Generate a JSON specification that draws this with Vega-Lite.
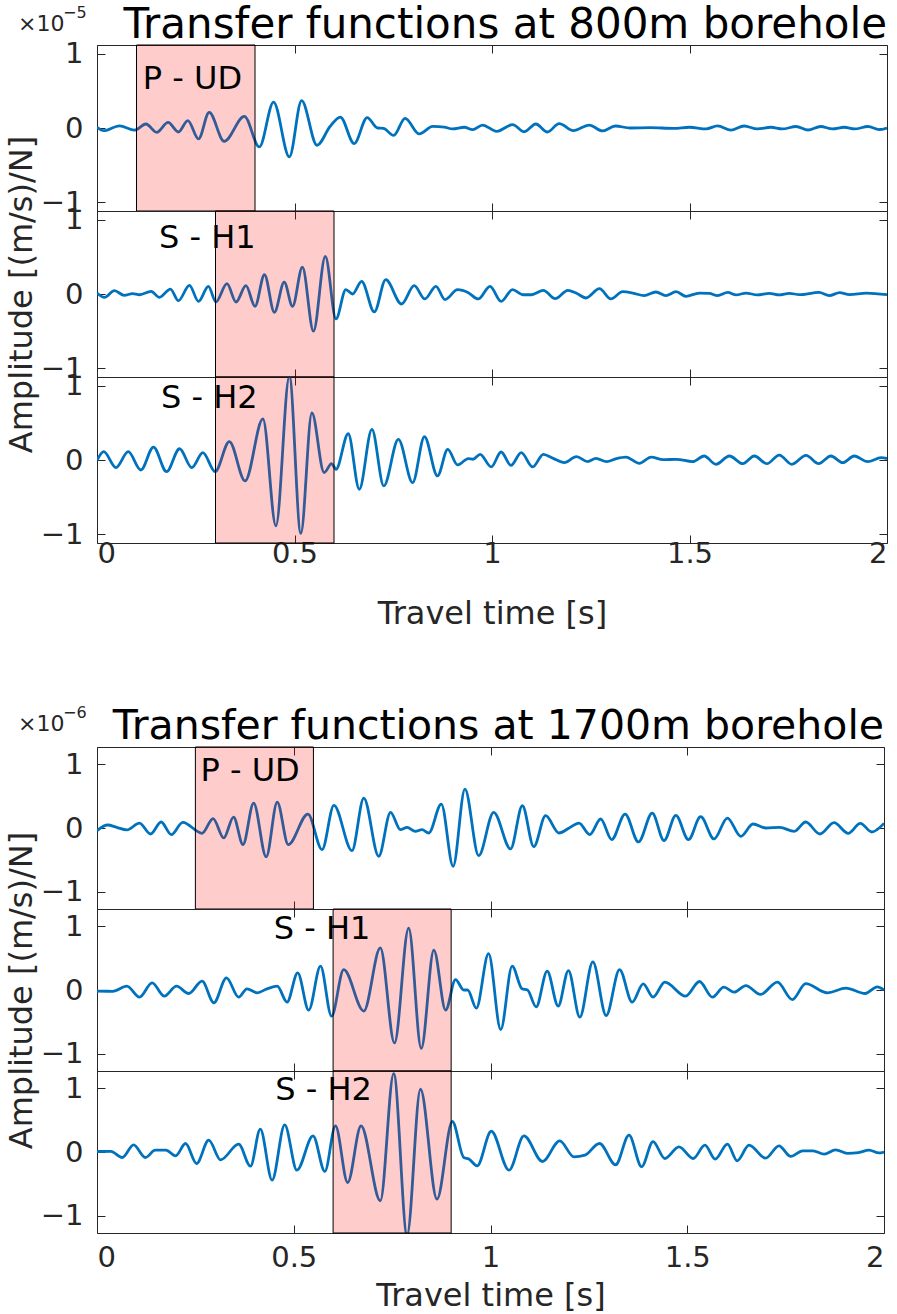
{
"$schema": "https://vega.github.io/schema/vega-lite/v6.json",
"padding": {"left": 4, "top": 3, "right": 10, "bottom": 2},
"background": "white",
"spacing": 74,
"config": {
  "font": "DejaVu Sans",
  "view": {"stroke": "#262626", "strokeWidth": 1},
  "axis": {"grid": false, "domain": false, "tickColor": "#262626", "tickSize": -8, "tickWidth": 1, "labelColor": "#262626", "titleColor": "#262626", "labelFont": "DejaVu Sans", "titleFont": "DejaVu Sans", "labelFontSize": 29, "titleFontSize": 32, "titleFontWeight": "normal"},
  "text": {"font": "DejaVu Sans"}
},
"datasets": {
"boxes": [
 {"p":"A1","x1":0.1,"x2":0.4,"tx":0.116,"ty":0.66,"name":"P - UD"},
 {"p":"A2","x1":0.3,"x2":0.6,"tx":0.157,"ty":0.76,"name":"S - H1"},
 {"p":"A3","x1":0.3,"x2":0.6,"tx":0.162,"ty":0.83,"name":"S - H2"},
 {"p":"B1","x1":0.25,"x2":0.55,"tx":0.263,"ty":0.9,"name":"P - UD"},
 {"p":"B2","x1":0.6,"x2":0.9,"tx":0.449,"ty":0.96,"name":"S - H1"},
 {"p":"B3","x1":0.6,"x2":0.9,"tx":0.453,"ty":0.97,"name":"S - H2"}
],
"heads": [
 {"g":"A","title":"Transfer functions at 800m borehole","base":"×10","exp":"−5"},
 {"g":"B","title":"Transfer functions at 1700m borehole","base":"×10","exp":"−6"}
],
"w": [
{"p":"A1","t":0,"a":0.01},{"p":"A1","t":0.017,"a":-0.036},{"p":"A1","t":0.057,"a":0.03},{"p":"A1","t":0.095,"a":-0.03},{"p":"A1","t":0.124,"a":0.054},{"p":"A1","t":0.151,"a":-0.058},{"p":"A1","t":0.18,"a":0.076},{"p":"A1","t":0.206,"a":-0.054},{"p":"A1","t":0.23,"a":0.1},{"p":"A1","t":0.257,"a":-0.148},{"p":"A1","t":0.284,"a":0.21},{"p":"A1","t":0.322,"a":-0.18},{"p":"A1","t":0.373,"a":0.157},{"p":"A1","t":0.411,"a":-0.256},{"p":"A1","t":0.447,"a":0.35},{"p":"A1","t":0.487,"a":-0.39},{"p":"A1","t":0.518,"a":0.37},{"p":"A1","t":0.557,"a":-0.233},{"p":"A1","t":0.59,"a":0.02},{"p":"A1","t":0.616,"a":0.148},{"p":"A1","t":0.651,"a":-0.21},{"p":"A1","t":0.684,"a":0.14},{"p":"A1","t":0.71,"a":0},{"p":"A1","t":0.725,"a":-0.005},{"p":"A1","t":0.751,"a":-0.1},{"p":"A1","t":0.78,"a":0.13},{"p":"A1","t":0.816,"a":-0.08},{"p":"A1","t":0.85,"a":0.022},{"p":"A1","t":0.879,"a":0.013},{"p":"A1","t":0.9,"a":-0.013},{"p":"A1","t":0.93,"a":0.01},{"p":"A1","t":0.951,"a":-0.022},{"p":"A1","t":0.976,"a":0.04},{"p":"A1","t":1.012,"a":-0.045},{"p":"A1","t":1.052,"a":0.045},{"p":"A1","t":1.082,"a":-0.05},{"p":"A1","t":1.111,"a":0.054},{"p":"A1","t":1.14,"a":-0.054},{"p":"A1","t":1.17,"a":0.058},{"p":"A1","t":1.206,"a":-0.036},{"p":"A1","t":1.246,"a":0.04},{"p":"A1","t":1.28,"a":-0.04},{"p":"A1","t":1.312,"a":0.027},{"p":"A1","t":1.35,"a":0},{"p":"A1","t":1.4,"a":0.004},{"p":"A1","t":1.46,"a":-0.004},{"p":"A1","t":1.5,"a":0.01},{"p":"A1","t":1.542,"a":-0.013},{"p":"A1","t":1.571,"a":0.03},{"p":"A1","t":1.605,"a":-0.03},{"p":"A1","t":1.638,"a":0.027},{"p":"A1","t":1.672,"a":-0.013},{"p":"A1","t":1.706,"a":0.01},{"p":"A1","t":1.735,"a":-0.013},{"p":"A1","t":1.77,"a":0.02},{"p":"A1","t":1.8,"a":-0.027},{"p":"A1","t":1.832,"a":0.02},{"p":"A1","t":1.862,"a":-0.013},{"p":"A1","t":1.892,"a":0.01},{"p":"A1","t":1.918,"a":-0.013},{"p":"A1","t":1.952,"a":0.02},{"p":"A1","t":1.98,"a":-0.022},{"p":"A1","t":2,"a":0},
{"p":"A2","t":0,"a":0.013},{"p":"A2","t":0.019,"a":-0.045},{"p":"A2","t":0.044,"a":0.045},{"p":"A2","t":0.069,"a":-0.018},{"p":"A2","t":0.09,"a":0.005},{"p":"A2","t":0.108,"a":-0.01},{"p":"A2","t":0.137,"a":0.036},{"p":"A2","t":0.158,"a":-0.045},{"p":"A2","t":0.186,"a":0.067},{"p":"A2","t":0.206,"a":-0.09},{"p":"A2","t":0.234,"a":0.117},{"p":"A2","t":0.257,"a":-0.1},{"p":"A2","t":0.282,"a":0.103},{"p":"A2","t":0.301,"a":-0.108},{"p":"A2","t":0.329,"a":0.139},{"p":"A2","t":0.352,"a":-0.108},{"p":"A2","t":0.377,"a":0.112},{"p":"A2","t":0.4,"a":-0.166},{"p":"A2","t":0.424,"a":0.26},{"p":"A2","t":0.449,"a":-0.247},{"p":"A2","t":0.474,"a":0.16},{"p":"A2","t":0.495,"a":-0.166},{"p":"A2","t":0.52,"a":0.363},{"p":"A2","t":0.548,"a":-0.502},{"p":"A2","t":0.578,"a":0.507},{"p":"A2","t":0.605,"a":-0.336},{"p":"A2","t":0.63,"a":0.058},{"p":"A2","t":0.647,"a":0},{"p":"A2","t":0.67,"a":0.17},{"p":"A2","t":0.702,"a":-0.242},{"p":"A2","t":0.731,"a":0.193},{"p":"A2","t":0.771,"a":-0.135},{"p":"A2","t":0.803,"a":0.112},{"p":"A2","t":0.83,"a":-0.067},{"p":"A2","t":0.858,"a":0.103},{"p":"A2","t":0.881,"a":-0.076},{"p":"A2","t":0.913,"a":0.058},{"p":"A2","t":0.94,"a":0.018},{"p":"A2","t":0.965,"a":-0.067},{"p":"A2","t":0.995,"a":0.103},{"p":"A2","t":1.023,"a":-0.1},{"p":"A2","t":1.052,"a":0.058},{"p":"A2","t":1.078,"a":-0.01},{"p":"A2","t":1.1,"a":-0.01},{"p":"A2","t":1.13,"a":0.05},{"p":"A2","t":1.16,"a":-0.063},{"p":"A2","t":1.192,"a":0.05},{"p":"A2","t":1.213,"a":0.013},{"p":"A2","t":1.238,"a":-0.054},{"p":"A2","t":1.272,"a":0.072},{"p":"A2","t":1.301,"a":-0.067},{"p":"A2","t":1.331,"a":0.031},{"p":"A2","t":1.357,"a":0.013},{"p":"A2","t":1.385,"a":-0.022},{"p":"A2","t":1.415,"a":0.027},{"p":"A2","t":1.44,"a":-0.022},{"p":"A2","t":1.466,"a":0.031},{"p":"A2","t":1.491,"a":-0.031},{"p":"A2","t":1.525,"a":0.013},{"p":"A2","t":1.55,"a":0.009},{"p":"A2","t":1.571,"a":-0.022},{"p":"A2","t":1.597,"a":0.022},{"p":"A2","t":1.618,"a":-0.013},{"p":"A2","t":1.643,"a":0.013},{"p":"A2","t":1.672,"a":-0.013},{"p":"A2","t":1.702,"a":0.009},{"p":"A2","t":1.727,"a":-0.013},{"p":"A2","t":1.753,"a":0.009},{"p":"A2","t":1.778,"a":-0.009},{"p":"A2","t":1.828,"a":0.022},{"p":"A2","t":1.854,"a":-0.022},{"p":"A2","t":1.88,"a":0.018},{"p":"A2","t":1.905,"a":-0.009},{"p":"A2","t":1.948,"a":0.013},{"p":"A2","t":2,"a":-0.009},
{"p":"A3","t":0,"a":-0.005},{"p":"A3","t":0.017,"a":0.112},{"p":"A3","t":0.048,"a":-0.103},{"p":"A3","t":0.079,"a":0.112},{"p":"A3","t":0.111,"a":-0.135},{"p":"A3","t":0.143,"a":0.175},{"p":"A3","t":0.176,"a":-0.157},{"p":"A3","t":0.209,"a":0.152},{"p":"A3","t":0.24,"a":-0.103},{"p":"A3","t":0.268,"a":0.099},{"p":"A3","t":0.299,"a":-0.157},{"p":"A3","t":0.335,"a":0.247},{"p":"A3","t":0.375,"a":-0.283},{"p":"A3","t":0.42,"a":0.556},{"p":"A3","t":0.453,"a":-0.888},{"p":"A3","t":0.487,"a":1.13},{"p":"A3","t":0.516,"a":-0.99},{"p":"A3","t":0.544,"a":0.637},{"p":"A3","t":0.575,"a":-0.17},{"p":"A3","t":0.594,"a":-0.05},{"p":"A3","t":0.605,"a":-0.125},{"p":"A3","t":0.636,"a":0.354},{"p":"A3","t":0.664,"a":-0.395},{"p":"A3","t":0.696,"a":0.413},{"p":"A3","t":0.726,"a":-0.35},{"p":"A3","t":0.763,"a":0.278},{"p":"A3","t":0.799,"a":-0.305},{"p":"A3","t":0.829,"a":0.314},{"p":"A3","t":0.862,"a":-0.215},{"p":"A3","t":0.888,"a":0.143},{"p":"A3","t":0.913,"a":-0.067},{"p":"A3","t":0.94,"a":0.018},{"p":"A3","t":0.952,"a":0.01},{"p":"A3","t":0.97,"a":0.076},{"p":"A3","t":0.998,"a":-0.094},{"p":"A3","t":1.023,"a":0.108},{"p":"A3","t":1.048,"a":-0.072},{"p":"A3","t":1.074,"a":0.099},{"p":"A3","t":1.103,"a":-0.094},{"p":"A3","t":1.13,"a":0.076},{"p":"A3","t":1.155,"a":0.022},{"p":"A3","t":1.183,"a":-0.036},{"p":"A3","t":1.214,"a":0.045},{"p":"A3","t":1.242,"a":-0.022},{"p":"A3","t":1.263,"a":0.022},{"p":"A3","t":1.29,"a":-0.022},{"p":"A3","t":1.315,"a":0.02},{"p":"A3","t":1.339,"a":0.04},{"p":"A3","t":1.373,"a":-0.045},{"p":"A3","t":1.403,"a":0.04},{"p":"A3","t":1.433,"a":0.004},{"p":"A3","t":1.467,"a":0.009},{"p":"A3","t":1.508,"a":-0.022},{"p":"A3","t":1.537,"a":0.054},{"p":"A3","t":1.567,"a":-0.058},{"p":"A3","t":1.601,"a":0.054},{"p":"A3","t":1.635,"a":-0.05},{"p":"A3","t":1.664,"a":0.054},{"p":"A3","t":1.696,"a":-0.05},{"p":"A3","t":1.727,"a":0.067},{"p":"A3","t":1.759,"a":-0.058},{"p":"A3","t":1.795,"a":0.063},{"p":"A3","t":1.827,"a":-0.05},{"p":"A3","t":1.858,"a":0.054},{"p":"A3","t":1.888,"a":-0.036},{"p":"A3","t":1.917,"a":0.054},{"p":"A3","t":1.951,"a":-0.022},{"p":"A3","t":1.985,"a":0.031},{"p":"A3","t":2,"a":0.02},
{"p":"B1","t":0,"a":-0.04},{"p":"B1","t":0.027,"a":0.047},{"p":"B1","t":0.05,"a":0.01},{"p":"B1","t":0.076,"a":-0.03},{"p":"B1","t":0.108,"a":0.078},{"p":"B1","t":0.136,"a":-0.094},{"p":"B1","t":0.163,"a":0.094},{"p":"B1","t":0.189,"a":-0.104},{"p":"B1","t":0.218,"a":0.089},{"p":"B1","t":0.267,"a":-0.083},{"p":"B1","t":0.295,"a":0.146},{"p":"B1","t":0.322,"a":-0.156},{"p":"B1","t":0.347,"a":0.172},{"p":"B1","t":0.371,"a":-0.26},{"p":"B1","t":0.398,"a":0.39},{"p":"B1","t":0.43,"a":-0.453},{"p":"B1","t":0.458,"a":0.406},{"p":"B1","t":0.486,"a":-0.26},{"p":"B1","t":0.536,"a":0.219},{"p":"B1","t":0.572,"a":-0.339},{"p":"B1","t":0.602,"a":0.354},{"p":"B1","t":0.648,"a":-0.354},{"p":"B1","t":0.678,"a":0.469},{"p":"B1","t":0.716,"a":-0.443},{"p":"B1","t":0.746,"a":0.245},{"p":"B1","t":0.771,"a":-0.026},{"p":"B1","t":0.788,"a":0.01},{"p":"B1","t":0.809,"a":-0.052},{"p":"B1","t":0.826,"a":-0.026},{"p":"B1","t":0.843,"a":-0.078},{"p":"B1","t":0.875,"a":0.375},{"p":"B1","t":0.905,"a":-0.6},{"p":"B1","t":0.935,"a":0.61},{"p":"B1","t":0.97,"a":-0.432},{"p":"B1","t":1.008,"a":0.245},{"p":"B1","t":1.051,"a":-0.328},{"p":"B1","t":1.081,"a":0.349},{"p":"B1","t":1.11,"a":-0.292},{"p":"B1","t":1.14,"a":0.193},{"p":"B1","t":1.174,"a":-0.078},{"p":"B1","t":1.2,"a":0},{"p":"B1","t":1.225,"a":0.078},{"p":"B1","t":1.252,"a":-0.104},{"p":"B1","t":1.28,"a":0.141},{"p":"B1","t":1.308,"a":-0.182},{"p":"B1","t":1.342,"a":0.219},{"p":"B1","t":1.376,"a":-0.219},{"p":"B1","t":1.411,"a":0.234},{"p":"B1","t":1.441,"a":-0.198},{"p":"B1","t":1.471,"a":0.198},{"p":"B1","t":1.503,"a":-0.182},{"p":"B1","t":1.534,"a":0.177},{"p":"B1","t":1.568,"a":-0.172},{"p":"B1","t":1.602,"a":0.156},{"p":"B1","t":1.636,"a":-0.13},{"p":"B1","t":1.667,"a":0.0625},{"p":"B1","t":1.7,"a":0},{"p":"B1","t":1.735,"a":0.01},{"p":"B1","t":1.772,"a":-0.052},{"p":"B1","t":1.801,"a":0.094},{"p":"B1","t":1.837,"a":-0.094},{"p":"B1","t":1.873,"a":0.083},{"p":"B1","t":1.909,"a":-0.083},{"p":"B1","t":1.94,"a":0.073},{"p":"B1","t":1.969,"a":-0.0625},{"p":"B1","t":2,"a":0.073},
{"p":"B2","t":0,"a":-0.018},{"p":"B2","t":0.04,"a":-0.02},{"p":"B2","t":0.076,"a":0.06},{"p":"B2","t":0.108,"a":-0.112},{"p":"B2","t":0.14,"a":0.112},{"p":"B2","t":0.171,"a":-0.097},{"p":"B2","t":0.202,"a":0.06},{"p":"B2","t":0.233,"a":-0.055},{"p":"B2","t":0.267,"a":0.138},{"p":"B2","t":0.297,"a":-0.2},{"p":"B2","t":0.329,"a":0.19},{"p":"B2","t":0.36,"a":-0.112},{"p":"B2","t":0.381,"a":0.018},{"p":"B2","t":0.407,"a":-0.044},{"p":"B2","t":0.432,"a":0.018},{"p":"B2","t":0.458,"a":0.06},{"p":"B2","t":0.483,"a":-0.19},{"p":"B2","t":0.51,"a":0.27},{"p":"B2","t":0.538,"a":-0.316},{"p":"B2","t":0.568,"a":0.373},{"p":"B2","t":0.596,"a":-0.41},{"p":"B2","t":0.627,"a":0.32},{"p":"B2","t":0.678,"a":-0.33},{"p":"B2","t":0.72,"a":0.66},{"p":"B2","t":0.756,"a":-0.83},{"p":"B2","t":0.792,"a":0.97},{"p":"B2","t":0.824,"a":-0.916},{"p":"B2","t":0.856,"a":0.624},{"p":"B2","t":0.886,"a":-0.316},{"p":"B2","t":0.911,"a":0.164},{"p":"B2","t":0.932,"a":0},{"p":"B2","t":0.942,"a":0},{"p":"B2","t":0.964,"a":-0.285},{"p":"B2","t":0.995,"a":0.57},{"p":"B2","t":1.026,"a":-0.62},{"p":"B2","t":1.055,"a":0.373},{"p":"B2","t":1.08,"a":0.02},{"p":"B2","t":1.094,"a":0},{"p":"B2","t":1.116,"a":-0.264},{"p":"B2","t":1.144,"a":0.295},{"p":"B2","t":1.172,"a":-0.253},{"p":"B2","t":1.198,"a":0.305},{"p":"B2","t":1.227,"a":-0.426},{"p":"B2","t":1.26,"a":0.44},{"p":"B2","t":1.294,"a":-0.4},{"p":"B2","t":1.328,"a":0.32},{"p":"B2","t":1.36,"a":-0.19},{"p":"B2","t":1.388,"a":0.097},{"p":"B2","t":1.413,"a":-0.112},{"p":"B2","t":1.443,"a":0.123},{"p":"B2","t":1.496,"a":-0.097},{"p":"B2","t":1.531,"a":0.133},{"p":"B2","t":1.564,"a":-0.112},{"p":"B2","t":1.593,"a":0.044},{"p":"B2","t":1.619,"a":-0.034},{"p":"B2","t":1.649,"a":0.07},{"p":"B2","t":1.686,"a":-0.07},{"p":"B2","t":1.729,"a":0.123},{"p":"B2","t":1.767,"a":-0.15},{"p":"B2","t":1.801,"a":0.1},{"p":"B2","t":1.856,"a":-0.044},{"p":"B2","t":1.903,"a":0.03},{"p":"B2","t":1.952,"a":-0.055},{"p":"B2","t":1.983,"a":0.05},{"p":"B2","t":2,"a":0},
{"p":"B3","t":0,"a":0.008},{"p":"B3","t":0.035,"a":0.01},{"p":"B3","t":0.064,"a":-0.086},{"p":"B3","t":0.093,"a":0.112},{"p":"B3","t":0.123,"a":-0.086},{"p":"B3","t":0.148,"a":0.029},{"p":"B3","t":0.175,"a":0.029},{"p":"B3","t":0.2,"a":-0.06},{"p":"B3","t":0.225,"a":0.133},{"p":"B3","t":0.253,"a":-0.18},{"p":"B3","t":0.284,"a":0.185},{"p":"B3","t":0.314,"a":-0.123},{"p":"B3","t":0.36,"a":0.123},{"p":"B3","t":0.39,"a":-0.222},{"p":"B3","t":0.415,"a":0.358},{"p":"B3","t":0.445,"a":-0.44},{"p":"B3","t":0.477,"a":0.425},{"p":"B3","t":0.508,"a":-0.285},{"p":"B3","t":0.549,"a":0.253},{"p":"B3","t":0.579,"a":-0.305},{"p":"B3","t":0.606,"a":0.41},{"p":"B3","t":0.637,"a":-0.478},{"p":"B3","t":0.671,"a":0.41},{"p":"B3","t":0.72,"a":-0.765},{"p":"B3","t":0.754,"a":1.23},{"p":"B3","t":0.788,"a":-1.3},{"p":"B3","t":0.822,"a":0.984},{"p":"B3","t":0.864,"a":-0.74},{"p":"B3","t":0.903,"a":0.478},{"p":"B3","t":0.932,"a":-0.086},{"p":"B3","t":0.945,"a":-0.11},{"p":"B3","t":0.966,"a":-0.217},{"p":"B3","t":1.002,"a":0.325},{"p":"B3","t":1.047,"a":-0.285},{"p":"B3","t":1.085,"a":0.253},{"p":"B3","t":1.132,"a":-0.149},{"p":"B3","t":1.176,"a":0.175},{"p":"B3","t":1.212,"a":-0.076},{"p":"B3","t":1.24,"a":-0.05},{"p":"B3","t":1.277,"a":0.133},{"p":"B3","t":1.318,"a":-0.2},{"p":"B3","t":1.352,"a":0.264},{"p":"B3","t":1.384,"a":-0.232},{"p":"B3","t":1.413,"a":0.164},{"p":"B3","t":1.443,"a":-0.102},{"p":"B3","t":1.479,"a":0.081},{"p":"B3","t":1.515,"a":-0.102},{"p":"B3","t":1.545,"a":0.107},{"p":"B3","t":1.571,"a":-0.112},{"p":"B3","t":1.602,"a":0.123},{"p":"B3","t":1.627,"a":-0.138},{"p":"B3","t":1.657,"a":0.107},{"p":"B3","t":1.699,"a":-0.097},{"p":"B3","t":1.733,"a":0.097},{"p":"B3","t":1.763,"a":-0.07},{"p":"B3","t":1.793,"a":0.018},{"p":"B3","t":1.82,"a":0.018},{"p":"B3","t":1.848,"a":-0.034},{"p":"B3","t":1.877,"a":0.034},{"p":"B3","t":1.907,"a":-0.02},{"p":"B3","t":1.935,"a":-0.01},{"p":"B3","t":1.962,"a":0.029},{"p":"B3","t":1.987,"a":-0.015},{"p":"B3","t":2,"a":0}
]
},
"vconcat": [
{
 "bounds": "flush",
 "spacing": 0,
 "vconcat": [
  {"width": 790, "height": 166,
   "resolve": {"axis": {"x": "independent", "y": "independent"}},
   "layer": [
    {"data": {"name": "w"}, "transform": [{"filter": "datum.p == 'A1'"}],
     "mark": {"type": "line", "interpolate": "monotone", "color": "#0072BD", "strokeWidth": 2.8, "clip": true},
     "encoding": {
      "x": {"field": "t", "type": "quantitative", "scale": {"domain": [0, 2], "nice": false}, "axis": {"orient": "bottom", "values": [0, 0.5, 1, 1.5, 2], "labels": false, "title": null}},
      "y": {"field": "a", "type": "quantitative", "scale": {"domain": [-1.12, 1.12], "nice": false, "zero": false}, "axis": {"orient": "left", "values": [-1, 0, 1], "format": "~g", "labelPadding": 22, "title": null}}}},
    {"data": {"name": "w"}, "transform": [{"filter": "datum.p == 'A1'"}],
     "mark": {"type": "point", "opacity": 0},
     "encoding": {
      "x": {"field": "t", "type": "quantitative", "axis": {"orient": "top", "values": [0, 0.5, 1, 1.5, 2], "labels": false, "title": null}},
      "y": {"field": "a", "type": "quantitative", "axis": {"orient": "right", "values": [-1, 0, 1], "labels": false, "title": null}}}},
    {"data": {"name": "boxes"}, "transform": [{"filter": "datum.p == 'A1'"}],
     "mark": {"type": "rect", "fill": "#ff0000", "fillOpacity": 0.2, "stroke": "#000000", "strokeWidth": 1},
     "encoding": {"x": {"field": "x1", "type": "quantitative", "axis": null}, "x2": {"field": "x2"}, "y": {"datum": -1.12, "type": "quantitative", "axis": null}, "y2": {"datum": 1.12}}},
    {"data": {"name": "boxes"}, "transform": [{"filter": "datum.p == 'A1'"}],
     "mark": {"type": "text", "align": "left", "baseline": "middle", "fontSize": 32, "color": "#000000"},
     "encoding": {"x": {"field": "tx", "type": "quantitative", "axis": null}, "y": {"field": "ty", "type": "quantitative", "axis": null}, "text": {"field": "name"}}},
    {"data": {"name": "heads"}, "transform": [{"filter": "datum.g == 'A'"}],
     "mark": {"type": "text", "align": "right", "baseline": "alphabetic", "fontSize": 42, "color": "#000000", "dy": -7},
     "encoding": {"x": {"datum": 2, "type": "quantitative", "axis": null}, "y": {"datum": 1.12, "type": "quantitative", "axis": null}, "text": {"field": "title"}}},
    {"data": {"name": "heads"}, "transform": [{"filter": "datum.g == 'A'"}],
     "mark": {"type": "text", "align": "left", "baseline": "alphabetic", "fontSize": 22, "color": "#262626", "dx": -79, "dy": -14},
     "encoding": {"x": {"datum": 0, "type": "quantitative", "axis": null}, "y": {"datum": 1.12, "type": "quantitative", "axis": null}, "text": {"field": "base"}}},
    {"data": {"name": "heads"}, "transform": [{"filter": "datum.g == 'A'"}],
     "mark": {"type": "text", "align": "left", "baseline": "alphabetic", "fontSize": 16, "color": "#262626", "dx": -34, "dy": -27},
     "encoding": {"x": {"datum": 0, "type": "quantitative", "axis": null}, "y": {"datum": 1.12, "type": "quantitative", "axis": null}, "text": {"field": "exp"}}}
   ]},
  {"width": 790, "height": 166,
   "resolve": {"axis": {"x": "independent", "y": "independent"}},
   "layer": [
    {"data": {"name": "w"}, "transform": [{"filter": "datum.p == 'A2'"}],
     "mark": {"type": "line", "interpolate": "monotone", "color": "#0072BD", "strokeWidth": 2.8, "clip": true},
     "encoding": {
      "x": {"field": "t", "type": "quantitative", "scale": {"domain": [0, 2], "nice": false}, "axis": {"orient": "bottom", "values": [0, 0.5, 1, 1.5, 2], "labels": false, "title": null}},
      "y": {"field": "a", "type": "quantitative", "scale": {"domain": [-1.12, 1.12], "nice": false, "zero": false}, "axis": {"orient": "left", "values": [-1, 0, 1], "format": "~g", "labelPadding": 22, "title": "Amplitude [(m/s)/N]", "titlePadding": 2}}}},
    {"data": {"name": "w"}, "transform": [{"filter": "datum.p == 'A2'"}],
     "mark": {"type": "point", "opacity": 0},
     "encoding": {
      "x": {"field": "t", "type": "quantitative", "axis": {"orient": "top", "values": [0, 0.5, 1, 1.5, 2], "labels": false, "title": null}},
      "y": {"field": "a", "type": "quantitative", "axis": {"orient": "right", "values": [-1, 0, 1], "labels": false, "title": null}}}},
    {"data": {"name": "boxes"}, "transform": [{"filter": "datum.p == 'A2'"}],
     "mark": {"type": "rect", "fill": "#ff0000", "fillOpacity": 0.2, "stroke": "#000000", "strokeWidth": 1},
     "encoding": {"x": {"field": "x1", "type": "quantitative", "axis": null}, "x2": {"field": "x2"}, "y": {"datum": -1.12, "type": "quantitative", "axis": null}, "y2": {"datum": 1.12}}},
    {"data": {"name": "boxes"}, "transform": [{"filter": "datum.p == 'A2'"}],
     "mark": {"type": "text", "align": "left", "baseline": "middle", "fontSize": 32, "color": "#000000"},
     "encoding": {"x": {"field": "tx", "type": "quantitative", "axis": null}, "y": {"field": "ty", "type": "quantitative", "axis": null}, "text": {"field": "name"}}}
   ]},
  {"width": 790, "height": 166,
   "resolve": {"axis": {"x": "independent", "y": "independent"}},
   "layer": [
    {"data": {"name": "w"}, "transform": [{"filter": "datum.p == 'A3'"}],
     "mark": {"type": "line", "interpolate": "monotone", "color": "#0072BD", "strokeWidth": 2.8, "clip": true},
     "encoding": {
      "x": {"field": "t", "type": "quantitative", "scale": {"domain": [0, 2], "nice": false}, "axis": {"orient": "bottom", "values": [0, 0.5, 1, 1.5, 2], "format": "~g", "labelPadding": 4, "title": "Travel time [s]", "titlePadding": 30}},
      "y": {"field": "a", "type": "quantitative", "scale": {"domain": [-1.12, 1.12], "nice": false, "zero": false}, "axis": {"orient": "left", "values": [-1, 0, 1], "format": "~g", "labelPadding": 22, "title": null}}}},
    {"data": {"name": "w"}, "transform": [{"filter": "datum.p == 'A3'"}],
     "mark": {"type": "point", "opacity": 0},
     "encoding": {
      "x": {"field": "t", "type": "quantitative", "axis": {"orient": "top", "values": [0, 0.5, 1, 1.5, 2], "labels": false, "title": null}},
      "y": {"field": "a", "type": "quantitative", "axis": {"orient": "right", "values": [-1, 0, 1], "labels": false, "title": null}}}},
    {"data": {"name": "boxes"}, "transform": [{"filter": "datum.p == 'A3'"}],
     "mark": {"type": "rect", "fill": "#ff0000", "fillOpacity": 0.2, "stroke": "#000000", "strokeWidth": 1},
     "encoding": {"x": {"field": "x1", "type": "quantitative", "axis": null}, "x2": {"field": "x2"}, "y": {"datum": -1.12, "type": "quantitative", "axis": null}, "y2": {"datum": 1.12}}},
    {"data": {"name": "boxes"}, "transform": [{"filter": "datum.p == 'A3'"}],
     "mark": {"type": "text", "align": "left", "baseline": "middle", "fontSize": 32, "color": "#000000"},
     "encoding": {"x": {"field": "tx", "type": "quantitative", "axis": null}, "y": {"field": "ty", "type": "quantitative", "axis": null}, "text": {"field": "name"}}}
   ]}
 ]
},
{
 "bounds": "flush",
 "spacing": 0,
 "vconcat": [
  {"width": 787, "height": 162,
   "resolve": {"axis": {"x": "independent", "y": "independent"}},
   "layer": [
    {"data": {"name": "w"}, "transform": [{"filter": "datum.p == 'B1'"}],
     "mark": {"type": "line", "interpolate": "monotone", "color": "#0072BD", "strokeWidth": 2.8, "clip": true},
     "encoding": {
      "x": {"field": "t", "type": "quantitative", "scale": {"domain": [0, 2], "nice": false}, "axis": {"orient": "bottom", "values": [0, 0.5, 1, 1.5, 2], "labels": false, "title": null}},
      "y": {"field": "a", "type": "quantitative", "scale": {"domain": [-1.27, 1.27], "nice": false, "zero": false}, "axis": {"orient": "left", "values": [-1, 0, 1], "format": "~g", "labelPadding": 22, "title": null}}}},
    {"data": {"name": "w"}, "transform": [{"filter": "datum.p == 'B1'"}],
     "mark": {"type": "point", "opacity": 0},
     "encoding": {
      "x": {"field": "t", "type": "quantitative", "axis": {"orient": "top", "values": [0, 0.5, 1, 1.5, 2], "labels": false, "title": null}},
      "y": {"field": "a", "type": "quantitative", "axis": {"orient": "right", "values": [-1, 0, 1], "labels": false, "title": null}}}},
    {"data": {"name": "boxes"}, "transform": [{"filter": "datum.p == 'B1'"}],
     "mark": {"type": "rect", "fill": "#ff0000", "fillOpacity": 0.2, "stroke": "#000000", "strokeWidth": 1},
     "encoding": {"x": {"field": "x1", "type": "quantitative", "axis": null}, "x2": {"field": "x2"}, "y": {"datum": -1.27, "type": "quantitative", "axis": null}, "y2": {"datum": 1.27}}},
    {"data": {"name": "boxes"}, "transform": [{"filter": "datum.p == 'B1'"}],
     "mark": {"type": "text", "align": "left", "baseline": "middle", "fontSize": 32, "color": "#000000"},
     "encoding": {"x": {"field": "tx", "type": "quantitative", "axis": null}, "y": {"field": "ty", "type": "quantitative", "axis": null}, "text": {"field": "name"}}},
    {"data": {"name": "heads"}, "transform": [{"filter": "datum.g == 'B'"}],
     "mark": {"type": "text", "align": "right", "baseline": "alphabetic", "fontSize": 41, "color": "#000000", "dy": -8},
     "encoding": {"x": {"datum": 2, "type": "quantitative", "axis": null}, "y": {"datum": 1.27, "type": "quantitative", "axis": null}, "text": {"field": "title"}}},
    {"data": {"name": "heads"}, "transform": [{"filter": "datum.g == 'B'"}],
     "mark": {"type": "text", "align": "left", "baseline": "alphabetic", "fontSize": 22, "color": "#262626", "dx": -79, "dy": -16},
     "encoding": {"x": {"datum": 0, "type": "quantitative", "axis": null}, "y": {"datum": 1.27, "type": "quantitative", "axis": null}, "text": {"field": "base"}}},
    {"data": {"name": "heads"}, "transform": [{"filter": "datum.g == 'B'"}],
     "mark": {"type": "text", "align": "left", "baseline": "alphabetic", "fontSize": 16, "color": "#262626", "dx": -34, "dy": -29},
     "encoding": {"x": {"datum": 0, "type": "quantitative", "axis": null}, "y": {"datum": 1.27, "type": "quantitative", "axis": null}, "text": {"field": "exp"}}}
   ]},
  {"width": 787, "height": 162,
   "resolve": {"axis": {"x": "independent", "y": "independent"}},
   "layer": [
    {"data": {"name": "w"}, "transform": [{"filter": "datum.p == 'B2'"}],
     "mark": {"type": "line", "interpolate": "monotone", "color": "#0072BD", "strokeWidth": 2.8, "clip": true},
     "encoding": {
      "x": {"field": "t", "type": "quantitative", "scale": {"domain": [0, 2], "nice": false}, "axis": {"orient": "bottom", "values": [0, 0.5, 1, 1.5, 2], "labels": false, "title": null}},
      "y": {"field": "a", "type": "quantitative", "scale": {"domain": [-1.27, 1.27], "nice": false, "zero": false}, "axis": {"orient": "left", "values": [-1, 0, 1], "format": "~g", "labelPadding": 22, "title": "Amplitude [(m/s)/N]", "titlePadding": 2}}}},
    {"data": {"name": "w"}, "transform": [{"filter": "datum.p == 'B2'"}],
     "mark": {"type": "point", "opacity": 0},
     "encoding": {
      "x": {"field": "t", "type": "quantitative", "axis": {"orient": "top", "values": [0, 0.5, 1, 1.5, 2], "labels": false, "title": null}},
      "y": {"field": "a", "type": "quantitative", "axis": {"orient": "right", "values": [-1, 0, 1], "labels": false, "title": null}}}},
    {"data": {"name": "boxes"}, "transform": [{"filter": "datum.p == 'B2'"}],
     "mark": {"type": "rect", "fill": "#ff0000", "fillOpacity": 0.2, "stroke": "#000000", "strokeWidth": 1},
     "encoding": {"x": {"field": "x1", "type": "quantitative", "axis": null}, "x2": {"field": "x2"}, "y": {"datum": -1.27, "type": "quantitative", "axis": null}, "y2": {"datum": 1.27}}},
    {"data": {"name": "boxes"}, "transform": [{"filter": "datum.p == 'B2'"}],
     "mark": {"type": "text", "align": "left", "baseline": "middle", "fontSize": 32, "color": "#000000"},
     "encoding": {"x": {"field": "tx", "type": "quantitative", "axis": null}, "y": {"field": "ty", "type": "quantitative", "axis": null}, "text": {"field": "name"}}}
   ]},
  {"width": 787, "height": 162,
   "resolve": {"axis": {"x": "independent", "y": "independent"}},
   "layer": [
    {"data": {"name": "w"}, "transform": [{"filter": "datum.p == 'B3'"}],
     "mark": {"type": "line", "interpolate": "monotone", "color": "#0072BD", "strokeWidth": 2.8, "clip": true},
     "encoding": {
      "x": {"field": "t", "type": "quantitative", "scale": {"domain": [0, 2], "nice": false}, "axis": {"orient": "bottom", "values": [0, 0.5, 1, 1.5, 2], "format": "~g", "labelPadding": 18, "title": "Travel time [s]", "titlePadding": 8}},
      "y": {"field": "a", "type": "quantitative", "scale": {"domain": [-1.27, 1.27], "nice": false, "zero": false}, "axis": {"orient": "left", "values": [-1, 0, 1], "format": "~g", "labelPadding": 22, "title": null}}}},
    {"data": {"name": "w"}, "transform": [{"filter": "datum.p == 'B3'"}],
     "mark": {"type": "point", "opacity": 0},
     "encoding": {
      "x": {"field": "t", "type": "quantitative", "axis": {"orient": "top", "values": [0, 0.5, 1, 1.5, 2], "labels": false, "title": null}},
      "y": {"field": "a", "type": "quantitative", "axis": {"orient": "right", "values": [-1, 0, 1], "labels": false, "title": null}}}},
    {"data": {"name": "boxes"}, "transform": [{"filter": "datum.p == 'B3'"}],
     "mark": {"type": "rect", "fill": "#ff0000", "fillOpacity": 0.2, "stroke": "#000000", "strokeWidth": 1},
     "encoding": {"x": {"field": "x1", "type": "quantitative", "axis": null}, "x2": {"field": "x2"}, "y": {"datum": -1.27, "type": "quantitative", "axis": null}, "y2": {"datum": 1.27}}},
    {"data": {"name": "boxes"}, "transform": [{"filter": "datum.p == 'B3'"}],
     "mark": {"type": "text", "align": "left", "baseline": "middle", "fontSize": 32, "color": "#000000"},
     "encoding": {"x": {"field": "tx", "type": "quantitative", "axis": null}, "y": {"field": "ty", "type": "quantitative", "axis": null}, "text": {"field": "name"}}}
   ]}
 ]
}
]
}
